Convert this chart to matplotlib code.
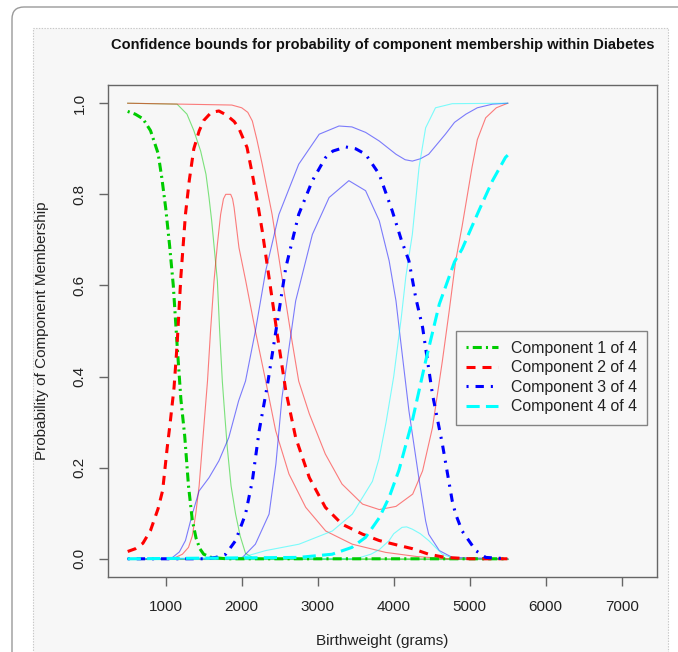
import matplotlib
matplotlib.use("Agg")
import matplotlib.pyplot as plt
from matplotlib.patches import FancyBboxPatch, Rectangle

plt.rcParams['font.family'] = ['Liberation Sans', 'DejaVu Sans']
plt.rcParams['lines.scale_dashes'] = False

# Data
# Component 1 (green)
c1_x = [500, 600, 700, 800, 900, 950, 1000, 1050, 1100, 1150, 1200, 1250, 1300, 1350,
        1400, 1450, 1500, 1600, 1800, 5500]
c1_mean = [0.982, 0.976, 0.966, 0.94, 0.89, 0.835, 0.77, 0.69, 0.60, 0.47, 0.35, 0.27,
           0.16, 0.085, 0.045, 0.022, 0.01, 0.003, 0.0, 0.0]
c1_up_x = [500, 1150, 1280, 1370, 1460, 1530, 1570, 1605, 1640, 1680, 1710, 1745, 1780,
           1810, 1860, 1920, 1980, 2050, 2150, 2300, 5500]
c1_up = [1.0, 0.998, 0.976, 0.94, 0.895, 0.844, 0.793, 0.742, 0.68, 0.61, 0.50, 0.39,
         0.31, 0.245, 0.16, 0.098, 0.05, 0.012, 0.002, 0.0, 0.0]
c1_lo_x = [500, 5500]
c1_lo = [0.0, 0.0]

# Component 2 (red)
c2_x = [500, 600, 700, 800, 900, 960, 1020, 1060, 1110, 1150, 1200, 1260, 1310, 1370,
        1440, 1500, 1600, 1700, 1800, 1900, 1960, 2070, 2140, 2200, 2270, 2360, 2470,
        2580, 2710, 2890, 3100, 3320, 3590, 3810, 4050, 4250, 4460, 4680, 5000, 5500]
c2_mean = [0.016, 0.022, 0.034, 0.062, 0.11, 0.15, 0.244, 0.30, 0.376, 0.47, 0.62, 0.756,
           0.83, 0.90, 0.939, 0.962, 0.98, 0.983, 0.974, 0.96, 0.946, 0.903, 0.844, 0.79,
           0.72, 0.617, 0.49, 0.369, 0.266, 0.178, 0.113, 0.076, 0.054, 0.04, 0.03, 0.022,
           0.01, 0.003, 0.0, 0.0]
c2_up_x = [500, 1200, 1870, 2000, 2080, 2140, 2200, 2270, 2400, 2530, 2650, 2750, 2890,
           3100, 3320, 3590, 3810, 4030, 4250, 4380, 4510, 4640, 4730, 4815, 4900, 5030,
           5100, 5210, 5350, 5470, 5500]
c2_up = [1.0, 0.998, 0.996, 0.99, 0.98, 0.961, 0.92, 0.866, 0.756, 0.617, 0.49, 0.39,
         0.318, 0.23, 0.164, 0.12, 0.108, 0.115, 0.142, 0.193, 0.288, 0.434, 0.544, 0.654,
         0.73, 0.859, 0.92, 0.968, 0.99, 0.998, 1.0]
c2_lo_x = [500, 1000, 1130, 1220, 1300, 1350, 1395, 1440, 1480, 1550, 1590, 1636, 1680,
           1723, 1760, 1790, 1855, 1880, 1900, 1964, 2053, 2180, 2316, 2447, 2622, 2842,
           3105, 3455, 3895, 4300, 4700, 5500]
c2_lo = [0.0, 0.0, 0.003, 0.01, 0.025, 0.05, 0.098, 0.16, 0.244, 0.39, 0.5, 0.61, 0.69,
         0.756, 0.79, 0.80, 0.80, 0.79, 0.771, 0.683, 0.61, 0.5, 0.39, 0.281, 0.186, 0.113,
         0.061, 0.032, 0.014, 0.005, 0.0, 0.0]

# Component 3 (blue)
c3_x = [500, 1500, 1660, 1790, 1920, 2050, 2140, 2230, 2340, 2450, 2580, 2750, 2930, 3100,
        3200, 3370, 3500, 3630, 3810, 3980, 4100, 4200, 4290, 4380, 4510, 4640, 4770, 4815,
        4900, 5080, 5210, 5500]
c3_mean = [0.0, 0.0, 0.003, 0.01, 0.04, 0.098, 0.171, 0.281, 0.383, 0.5, 0.639, 0.756, 0.83,
           0.88, 0.895, 0.904, 0.90, 0.888, 0.844, 0.764, 0.70, 0.654, 0.573, 0.508, 0.361,
           0.252, 0.127, 0.098, 0.061, 0.018, 0.003, 0.0]
c3_up_x = [500, 1000, 1090, 1180, 1260, 1350, 1440, 1570, 1700, 1830, 1960, 2050, 2180, 2316,
           2490, 2750, 3020, 3280, 3450, 3630, 3810, 4030, 4150, 4245, 4350, 4460, 4680, 4800,
           4950, 5100, 5300, 5500]
c3_up = [0.0, 0.0, 0.003, 0.015, 0.04, 0.098, 0.149, 0.178, 0.215, 0.266, 0.347, 0.39, 0.5,
         0.632, 0.756, 0.866, 0.932, 0.95, 0.948, 0.936, 0.917, 0.888, 0.876, 0.873, 0.878,
         0.888, 0.932, 0.958, 0.976, 0.99, 0.998, 1.0]
c3_lo_x = [500, 1900, 2010, 2180, 2360, 2450, 2530, 2620, 2710, 2930, 3150, 3410, 3630, 3810,
           3940, 4030, 4070, 4200, 4330, 4420, 4460, 4600, 4770, 5500]
c3_lo = [0.0, 0.0, 0.003, 0.032, 0.098, 0.208, 0.354, 0.46, 0.566, 0.712, 0.793, 0.83, 0.808,
         0.742, 0.654, 0.566, 0.508, 0.325, 0.178, 0.083, 0.054, 0.018, 0.003, 0.0]

# Component 4 (cyan)
c4_x = [500, 2750, 3190, 3450, 3630, 3810, 3940, 4070, 4245, 4420, 4600, 4800, 4900, 5120,
        5300, 5470, 5500]
c4_mean = [0.0, 0.003, 0.01, 0.025, 0.047, 0.09, 0.135, 0.195, 0.303, 0.434, 0.559, 0.652,
           0.68, 0.764, 0.83, 0.881, 0.886]
c4_up_x = [500, 2000, 2316, 2754, 3193, 3455, 3720, 3807, 3900, 4000, 4100, 4160, 4245, 4333,
           4420, 4550, 4770, 5500]
c4_up = [0.0, 0.003, 0.018, 0.032, 0.061, 0.098, 0.17, 0.22, 0.30, 0.40, 0.53, 0.62, 0.712,
         0.859, 0.946, 0.99, 0.999, 1.0]
c4_lo_x = [500, 3500, 3700, 3810, 3940, 4000, 4110, 4170, 4245, 4350, 4460, 4550, 4640, 4800,
           5500]
c4_lo = [0.0, 0.0, 0.01, 0.02, 0.04, 0.055, 0.069, 0.07, 0.065, 0.055, 0.04, 0.025, 0.01, 0.0,
         0.0]

labels = ["Component 1 of 4", "Component 2 of 4", "Component 3 of 4", "Component 4 of 4"]
x_ticks = [1000, 2000, 3000, 4000, 5000, 6000, 7000]
y_ticks = [0.0, 0.2, 0.4, 0.6, 0.8, 1.0]

# Figure
fig = plt.figure(figsize=(6.78, 6.52), dpi=100)
fig.patch.set_facecolor('white')

# page-like frame around the picture (drawn behind the axes)
fig.patches.append(FancyBboxPatch((12, -60), 720, 652 - 7 + 60,
                                  boxstyle="round,pad=0,rounding_size=12",
                                  transform=None, facecolor='white',
                                  edgecolor='#9a9a9a', linewidth=1.0, zorder=-20))
fig.patches.append(Rectangle((33, -10), 668 - 33, 652 - 28 + 10, transform=None,
                             facecolor='#f7f7f7', edgecolor='#c8c8c8',
                             linewidth=0.8, linestyle=(0, (1, 1)), zorder=-10))

ax = fig.add_axes([108 / 678, 1 - 577 / 652, (657 - 108) / 678, (577 - 85) / 652])
ax.set_facecolor('none')

bands = [
    (c1_lo_x, c1_lo, c1_up_x, c1_up, '#00cc00'),
    (c2_lo_x, c2_lo, c2_up_x, c2_up, '#ff0000'),
    (c3_lo_x, c3_lo, c3_up_x, c3_up, '#0000ff'),
    (c4_lo_x, c4_lo, c4_up_x, c4_up, '#00ffff'),
]
for lx, ly, ux, uy, col in bands:
    ax.plot(lx, ly, color=col, alpha=0.5, linewidth=0.8)
    ax.plot(ux, uy, color=col, alpha=0.5, linewidth=0.8)

ax.plot(c1_x, c1_mean, color='#00cc00', linewidth=2.2, dashes=(1.5, 3, 6.5, 3), label=labels[0])
ax.plot(c2_x, c2_mean, color='#ff0000', linewidth=2.2, dashes=(6.5, 5), label=labels[1])
ax.plot(c3_x, c3_mean, color='#0000ff', linewidth=2.2, dashes=(1.5, 5, 6, 5), label=labels[2])
ax.plot(c4_x, c4_mean, color='#00ffff', linewidth=2.2, dashes=(9.5, 4.5), label=labels[3])

ax.set_xlim(241, 7464)
ax.set_ylim(-0.04, 1.04)
ax.set_xticks(x_ticks)
ax.set_xticklabels([str(v) for v in x_ticks])
ax.set_yticks(y_ticks)
ax.set_yticklabels([f"{v:.1f}" for v in y_ticks])

for s in ax.spines.values():
    s.set_color('#666666')
    s.set_linewidth(1.0)
ax.tick_params(axis='both', colors='#666666', labelcolor='#222222', labelsize=11,
               length=6.5, width=1.0)
ax.tick_params(axis='x', pad=10)
ax.tick_params(axis='y', pad=9)
for lab in ax.get_yticklabels():
    lab.set_rotation(90)
    lab.set_va('center')

leg = ax.legend(loc='upper left', bbox_to_anchor=(0.634, 0.5006), borderaxespad=0,
                fontsize=11.4, handlelength=2.0, handletextpad=0.8, borderpad=0.65,
                labelspacing=0.28, frameon=True, fancybox=False)
leg.get_frame().set_edgecolor('#666666')
leg.get_frame().set_facecolor('none')
leg.get_frame().set_linewidth(1.0)
for t in leg.get_texts():
    t.set_color('#222222')

xc = (108 + 657) / 2 / 678
fig.text(xc, 1 - 45 / 652, "Confidence bounds for probability of component membership within Diabetes",
         ha='center', va='center', fontsize=10.5, fontweight='bold', color='#111111')
fig.text(xc, 1 - 641 / 652, "Birthweight (grams)", ha='center', va='center',
         fontsize=11, color='#222222')
fig.text(42 / 678, 1 - 331 / 652, "Probability of Component Membership", ha='center',
         va='center', rotation=90, fontsize=11, color='#222222')

fig.savefig("out.png", dpi=100)
